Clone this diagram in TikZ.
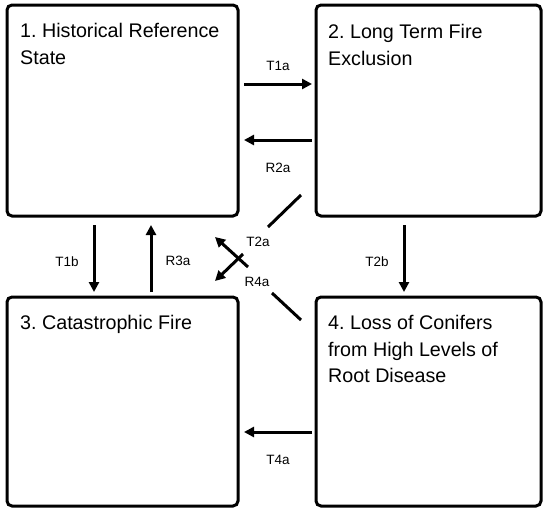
\documentclass[tikz,border=0pt]{standalone}
\usepackage{fontspec}
\setmainfont{Liberation Sans}
\usetikzlibrary{arrows.meta}
\frenchspacing
\begin{document}
\begin{tikzpicture}[x=1pt,y=-1pt,
  box/.style={draw, line width=3pt, rounded corners=5pt, inner sep=0pt},
  title/.style={anchor=north west, inner sep=0pt, align=left, font=\fontsize{19.7}{26.5}\selectfont},
  lab/.style={font=\fontsize{13.5}{16}\selectfont, inner sep=0pt},
  arr/.style={line width=3pt, -{Triangle[length=10pt,width=10pt]}},
  ln/.style={line width=3pt}]
\useasboundingbox (0,0) rectangle (544,509);
% boxes
\node[box, minimum width=231pt, minimum height=211pt] (b1) at (122.5,110.5) {};
\node[box, minimum width=225pt, minimum height=211pt] (b2) at (428.5,110.5) {};
\node[box, minimum width=231pt, minimum height=209pt] (b3) at (122.5,401.5) {};
\node[box, minimum width=225pt, minimum height=209pt] (b4) at (428.5,401.5) {};
% titles
\node[title] (t1) at (20,23.5) {1. Historical Reference\\State};
\node[title] (t2) at (328,24.5) {2. Long Term Fire\\Exclusion};
\node[title] (t3) at (20,315.5) {3. Catastrophic Fire};
\node[title] (t4) at (328,315.5) {4. Loss of Conifers\\from High Levels of\\Root Disease};
% connector end points
\coordinate (a1s) at (244,84);  \coordinate (a1e) at (312,84);
\coordinate (a2s) at (312,140); \coordinate (a2e) at (244,140);
\coordinate (a3s) at (312,432); \coordinate (a3e) at (244,432);
\coordinate (a4s) at (94,225);  \coordinate (a4e) at (94,292);
\coordinate (a5s) at (151,292); \coordinate (a5e) at (151,225);
\coordinate (a6s) at (404,225); \coordinate (a6e) at (404,292);
\coordinate (d1s) at (301,195); \coordinate (d1e) at (268,227);
\coordinate (d2s) at (248,267); \coordinate (d2e) at (215,237);
\coordinate (d3s) at (243,254); \coordinate (d3e) at (215,281);
\coordinate (d4s) at (272,293); \coordinate (d4e) at (301,320);
% connectors
\draw[arr] (a1s) -- (a1e);
\draw[arr] (a2s) -- (a2e);
\draw[arr] (a3s) -- (a3e);
\draw[arr] (a4s) -- (a4e);
\draw[arr] (a5s) -- (a5e);
\draw[arr] (a6s) -- (a6e);
\draw[ln] (d1s) -- (d1e);
\draw[arr] (d2s) -- (d2e);
\draw[arr] (d3s) -- (d3e);
\draw[ln] (d4s) -- (d4e);
% labels
\node[lab] (lT1a) at (278,66) {T1a};
\node[lab] (lR2a) at (278,168) {R2a};
\node[lab] (lT1b) at (67,262) {T1b};
\node[lab] (lR3a) at (178,261) {R3a};
\node[lab] (lT2b) at (377,262) {T2b};
\node[lab] (lT4a) at (278,460) {T4a};
\node[lab] (lT2a) at (258,242) {T2a};
\node[lab] (lR4a) at (257,282) {R4a};
\end{tikzpicture}
\end{document}
